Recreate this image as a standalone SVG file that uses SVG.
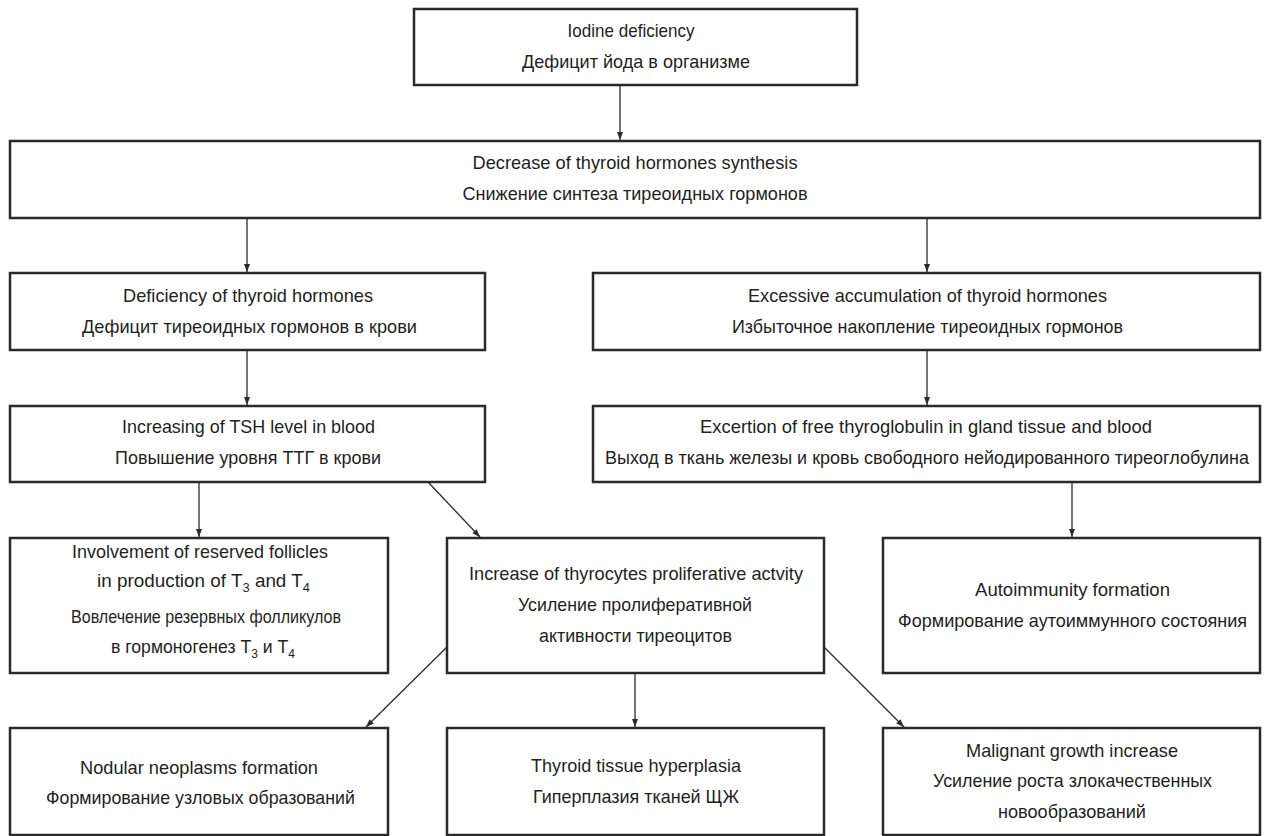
<svg xmlns="http://www.w3.org/2000/svg" width="1264" height="836" viewBox="0 0 1264 836">
<style>
.box{fill:#fff;stroke:#2a2a2a;stroke-width:2.5}
.t{font-family:"Liberation Sans",Arial,sans-serif;font-size:19px;fill:#231f20;text-anchor:middle}
.sub{font-size:13px}
.c{stroke:#2a2a2a;stroke-width:1.3;fill:none;marker-end:url(#ah)}
</style>
<defs>
<marker id="ah" markerUnits="userSpaceOnUse" markerWidth="9" markerHeight="7" refX="8" refY="3" orient="auto">
<path d="M0,0 L8,3 L0,6 z" fill="#2a2a2a"/>
</marker>
</defs>
<rect width="1264" height="836" fill="#fff"/>
<g id="connectors">
<line class="c" x1="620" y1="85" x2="620" y2="140"/>
<line class="c" x1="247" y1="218" x2="247" y2="272"/>
<line class="c" x1="927" y1="218" x2="927" y2="272"/>
<line class="c" x1="247" y1="350" x2="247" y2="405"/>
<line class="c" x1="927" y1="350" x2="927" y2="405"/>
<line class="c" x1="199" y1="482" x2="199" y2="537"/>
<line class="c" x1="428" y1="482" x2="480" y2="537"/>
<line class="c" x1="1072" y1="482" x2="1072" y2="537"/>
<line class="c" x1="447" y1="647" x2="366" y2="727"/>
<line class="c" x1="635" y1="673" x2="635" y2="727"/>
<line class="c" x1="824" y1="647" x2="904" y2="727"/>
</g>
<g id="n1">
<rect class="box" x="414" y="9" width="443" height="76"/>
<text class="t" x="631" y="37" textLength="127" lengthAdjust="spacingAndGlyphs">Iodine deficiency</text>
<text class="t" x="636" y="68" textLength="228" lengthAdjust="spacingAndGlyphs">Дефицит йода в организме</text>
</g>
<g id="n2">
<rect class="box" x="10" y="141" width="1250" height="77"/>
<text class="t" x="635" y="169" textLength="325" lengthAdjust="spacingAndGlyphs">Decrease of thyroid hormones synthesis</text>
<text class="t" x="635" y="200" textLength="345" lengthAdjust="spacingAndGlyphs">Снижение синтеза тиреоидных гормонов</text>
</g>
<g id="n3">
<rect class="box" x="10" y="273" width="475" height="77"/>
<text class="t" x="248" y="302" textLength="250" lengthAdjust="spacingAndGlyphs">Deficiency of thyroid hormones</text>
<text class="t" x="249.5" y="333" textLength="335" lengthAdjust="spacingAndGlyphs">Дефицит тиреоидных гормонов в крови</text>
</g>
<g id="n4">
<rect class="box" x="593" y="273" width="667" height="77"/>
<text class="t" x="927.5" y="302" textLength="359" lengthAdjust="spacingAndGlyphs">Excessive accumulation of thyroid hormones</text>
<text class="t" x="927.5" y="333" textLength="391" lengthAdjust="spacingAndGlyphs">Избыточное накопление тиреоидных гормонов</text>
</g>
<g id="n5">
<rect class="box" x="10" y="406" width="475" height="76"/>
<text class="t" x="248.5" y="433" textLength="253" lengthAdjust="spacingAndGlyphs">Increasing of TSH level in blood</text>
<text class="t" x="248" y="464" textLength="266" lengthAdjust="spacingAndGlyphs">Повышение уровня ТТГ в крови</text>
</g>
<g id="n6">
<rect class="box" x="593" y="406" width="667" height="76"/>
<text class="t" x="926" y="433" textLength="452" lengthAdjust="spacingAndGlyphs">Excertion of free thyroglobulin in gland tissue and blood</text>
<text class="t" x="927" y="464" textLength="644" lengthAdjust="spacingAndGlyphs">Выход в ткань железы и кровь свободного нейодированного тиреоглобулина</text>
</g>
<g id="n7">
<rect class="box" x="10" y="538" width="378" height="135"/>
<text class="t" x="200" y="558" textLength="256" lengthAdjust="spacingAndGlyphs">Involvement of reserved follicles</text>
<text class="t" x="203.5" y="587" textLength="213" lengthAdjust="spacingAndGlyphs">in production of T<tspan class="sub" dy="5">3</tspan><tspan dy="-5"> and T</tspan><tspan class="sub" dy="5">4</tspan></text>
<text class="t" x="206" y="623" textLength="270" lengthAdjust="spacingAndGlyphs">Вовлечение резервных фолликулов</text>
<text class="t" x="203" y="653" textLength="184" lengthAdjust="spacingAndGlyphs">в гормоногенез T<tspan class="sub" dy="5">3</tspan><tspan dy="-5"> и T</tspan><tspan class="sub" dy="5">4</tspan></text>
</g>
<g id="n8">
<rect class="box" x="447" y="538" width="377" height="135"/>
<text class="t" x="636" y="580" textLength="334" lengthAdjust="spacingAndGlyphs">Increase of thyrocytes proliferative actvity</text>
<text class="t" x="635" y="611" textLength="234" lengthAdjust="spacingAndGlyphs">Усиление пролиферативной</text>
<text class="t" x="635.5" y="642" textLength="193" lengthAdjust="spacingAndGlyphs">активности тиреоцитов</text>
</g>
<g id="n9">
<rect class="box" x="883" y="538" width="377" height="135"/>
<text class="t" x="1072.5" y="596" textLength="195" lengthAdjust="spacingAndGlyphs">Autoimmunity formation</text>
<text class="t" x="1072.5" y="627" textLength="349" lengthAdjust="spacingAndGlyphs">Формирование аутоиммунного состояния</text>
</g>
<g id="n10">
<rect class="box" x="10" y="728" width="378" height="107"/>
<text class="t" x="199" y="774" textLength="238" lengthAdjust="spacingAndGlyphs">Nodular neoplasms formation</text>
<text class="t" x="200.5" y="804" textLength="309" lengthAdjust="spacingAndGlyphs">Формирование узловых образований</text>
</g>
<g id="n11">
<rect class="box" x="447" y="728" width="377" height="107"/>
<text class="t" x="636" y="772" textLength="210" lengthAdjust="spacingAndGlyphs">Thyroid tissue hyperplasia</text>
<text class="t" x="636" y="803" textLength="206" lengthAdjust="spacingAndGlyphs">Гиперплазия тканей ЩЖ</text>
</g>
<g id="n12">
<rect class="box" x="883" y="728" width="377" height="107"/>
<text class="t" x="1072" y="757" textLength="212" lengthAdjust="spacingAndGlyphs">Malignant growth increase</text>
<text class="t" x="1072.5" y="787" textLength="279" lengthAdjust="spacingAndGlyphs">Усиление роста злокачественных</text>
<text class="t" x="1072" y="818" textLength="148" lengthAdjust="spacingAndGlyphs">новообразований</text>
</g>
</svg>
